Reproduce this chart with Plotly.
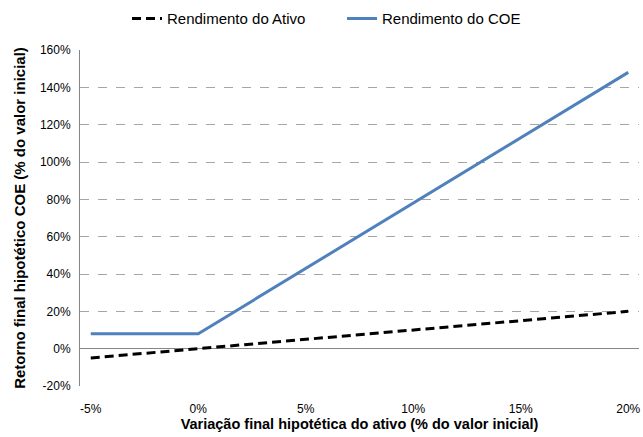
import plotly.graph_objects as go

x_vals = [-5, -4, -3, -2, -1, 0, 1, 2, 3, 4, 5, 6, 7, 8, 9, 10, 11, 12, 13, 14, 15, 16, 17, 18, 19, 20]
asset = [-5, -4, -3, -2, -1, 0, 1, 2, 3, 4, 5, 6, 7, 8, 9, 10, 11, 12, 13, 14, 15, 16, 17, 18, 19, 20]
coe = [8, 8, 8, 8, 8, 8, 15, 22, 29, 36, 43, 50, 57, 64, 71, 78, 85, 92, 99, 106, 113, 120, 127, 134, 141, 148]
x_ticks = [-5, 0, 5, 10, 15, 20]
x_labels = ["-5%", "0%", "5%", "10%", "15%", "20%"]
y_ticks = [-20, 0, 20, 40, 60, 80, 100, 120, 140, 160]
y_labels = ["-20%", "0%", "20%", "40%", "60%", "80%", "100%", "120%", "140%", "160%"]

fig = go.Figure()
fig.add_trace(go.Scatter(x=x_vals, y=asset, mode="lines", name="Rendimento do Ativo",
                         line=dict(color="#000000", width=3, dash="9px,5px")))
fig.add_trace(go.Scatter(x=x_vals, y=coe, mode="lines", name="Rendimento do COE",
                         line=dict(color="#4F81BD", width=3)))

fig.update_layout(
    width=643, height=437,
    margin=dict(l=80, r=4, t=50, b=51, autoexpand=False),
    paper_bgcolor="white", plot_bgcolor="white",
    font=dict(family="Liberation Sans, Arial, sans-serif", size=12, color="#000000"),
    legend=dict(orientation="h", xref="container", x=127 / 643, xanchor="left",
                yref="container", y=0.995, yanchor="top",
                font=dict(size=15), itemwidth=30, entrywidth=170),
    showlegend=True,
)
fig.update_xaxes(range=[-5.5, 20.5], tickvals=x_ticks, ticktext=x_labels, showgrid=False,
                 zeroline=False, showline=False, ticks="outside", ticklen=12,
                 tickcolor="rgba(0,0,0,0)", ticklabeloverflow="allow",
                 title=dict(text="<b>Variação final hipotética do ativo (% do valor inicial)</b>",
                            font=dict(size=14.5), standoff=3))
fig.update_yaxes(range=[-20, 160], tickvals=y_ticks, ticktext=y_labels, showgrid=True,
                 gridcolor="#A6A6A6", griddash="dash", gridwidth=1,
                 zeroline=True, zerolinecolor="#868686", zerolinewidth=1,
                 showline=True, linecolor="#868686", linewidth=1,
                 ticks="outside", ticklen=6, tickcolor="rgba(0,0,0,0)",
                 title=dict(text="<b>Retorno final hipotético COE (% do valor inicial)</b>",
                            font=dict(size=15), standoff=10))

fig.write_html("out.html", config={"displayModeBar": False},
               post_script="document.body.style.margin='0';document.body.style.overflow='hidden';")
